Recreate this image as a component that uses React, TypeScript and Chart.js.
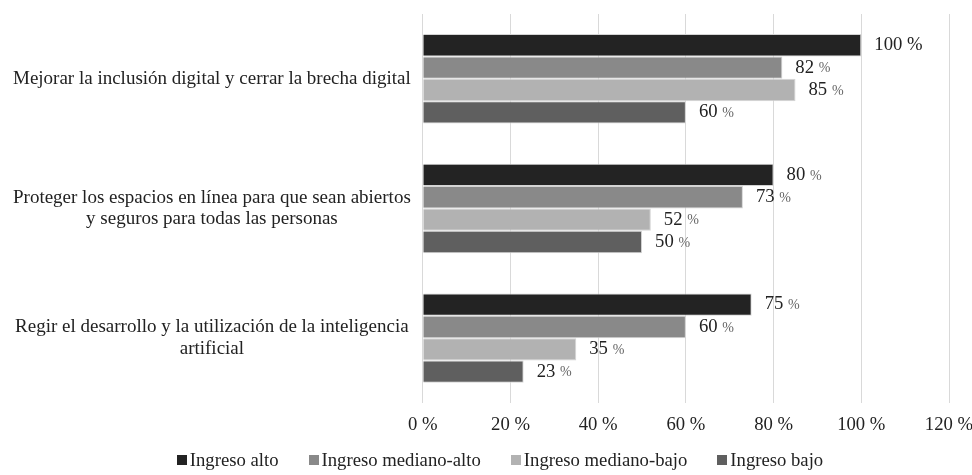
import React, { useEffect, useRef } from "react";
import { Chart, registerables } from "chart.js";

Chart.register(...registerables);

const categories: (string | string[])[] = [
  "Mejorar la inclusión digital y cerrar la brecha digital",
  ["Proteger los espacios en línea para que sean abiertos", "y seguros para todas las personas"],
  ["Regir el desarrollo y la utilización de la inteligencia", "artificial"],
];

const seriesNames = ["Ingreso alto", "Ingreso mediano-alto", "Ingreso mediano-bajo", "Ingreso bajo"];
const ingresoAlto = [100, 80, 75];
const ingresoMedianoAlto = [82, 73, 60];
const ingresoMedianoBajo = [85, 52, 35];
const ingresoBajo = [60, 50, 23];
const seriesColors = ["#232323", "#898989", "#b2b2b2", "#5f5f5f"];
const xTicks = [0, 20, 40, 60, 80, 100, 120];

const FONT = '"Liberation Serif", "Times New Roman", serif';
const FS = 18.7;

const valueLabels = {
  id: "valueLabels",
  afterDatasetsDraw(chart: any) {
    const ctx = chart.ctx;
    ctx.save();
    ctx.textBaseline = "middle";
    ctx.textAlign = "left";
    chart.data.datasets.forEach((ds: any, di: number) => {
      const meta = chart.getDatasetMeta(di);
      meta.data.forEach((bar: any, i: number) => {
        const v = ds.data[i];
        const x = bar.x + 13;
        const y = bar.y;
        const num = String(v);
        ctx.font = `${FS}px ${FONT}`;
        ctx.fillStyle = "#222";
        ctx.fillText(num, x, y);
        const w = ctx.measureText(num + " ").width;
        if (v >= 100) {
          ctx.fillText("%", x + w, y);
        } else {
          ctx.font = `14px ${FONT}`;
          ctx.fillStyle = "#666";
          ctx.fillText("%", x + w, y + 1);
        }
      });
    });
    ctx.restore();
  },
};

export default function App() {
  const ref = useRef<HTMLCanvasElement>(null);
  useEffect(() => {
    if (!ref.current) return;
    const allSeries = [ingresoAlto, ingresoMedianoAlto, ingresoMedianoBajo, ingresoBajo];
    const chart = new Chart(ref.current, {
      type: "bar",
      data: {
        labels: categories,
        datasets: allSeries.map((d, i) => ({
          label: seriesNames[i],
          data: d,
          backgroundColor: seriesColors[i],
          borderColor: "#d4d4d4",
          borderWidth: 1,
          categoryPercentage: 0.69,
          barPercentage: 1.0,
        })),
      },
      options: {
        indexAxis: "y",
        animation: false,
        responsive: false,
        maintainAspectRatio: false,
        layout: { padding: { left: 1, right: 23, top: 14, bottom: 4.6 } },
        scales: {
          x: {
            min: 0,
            max: 120,
            afterBuildTicks: (axis: any) => {
              axis.ticks = xTicks.map((v) => ({ value: v }));
            },
            afterFit: (s: any) => {
              s.paddingLeft = 0;
              s.paddingRight = 0;
            },
            ticks: {
              callback: (v: any) => `${v} %`,
              color: "#222",
              font: { family: FONT, size: FS },
              padding: 11,
              maxRotation: 0,
            },
            grid: { color: "#d9d9d9", drawTicks: false, lineWidth: 1 },
            border: { display: false },
          },
          y: {
            afterFit: (s: any) => {
              s.paddingTop = 0;
              s.paddingBottom = 0;
            },
            ticks: {
              crossAlign: "center",
              color: "#222",
              font: { family: FONT, size: 19, lineHeight: 1.15 },
              padding: 12,
            },
            grid: { display: false, drawTicks: false },
            border: { display: false },
          },
        },
        plugins: {
          legend: { display: false },
          tooltip: { enabled: false },
        },
      },
      plugins: [valueLabels],
    });
    return () => chart.destroy();
  }, []);

  return (
    <div style={{ position: "absolute", left: 0, top: 0, width: 972, height: 475, background: "#fff" }}>
      <canvas ref={ref} width={972} height={452} style={{ display: "block" }} />
      <div
        style={{
          position: "absolute",
          top: 449,
          left: 0,
          width: 972,
          boxSizing: "border-box",
          paddingLeft: 28,
          display: "flex",
          justifyContent: "center",
          gap: 30,
          fontFamily: FONT,
          fontSize: FS,
          color: "#222",
          lineHeight: "22px",
        }}
      >
        {seriesNames.map((n, i) => (
          <span key={n} style={{ display: "inline-flex", alignItems: "center" }}>
            <span style={{ display: "inline-block", width: 10, height: 10, background: seriesColors[i], marginRight: 3 }} />
            {n}
          </span>
        ))}
      </div>
    </div>
  );
}
